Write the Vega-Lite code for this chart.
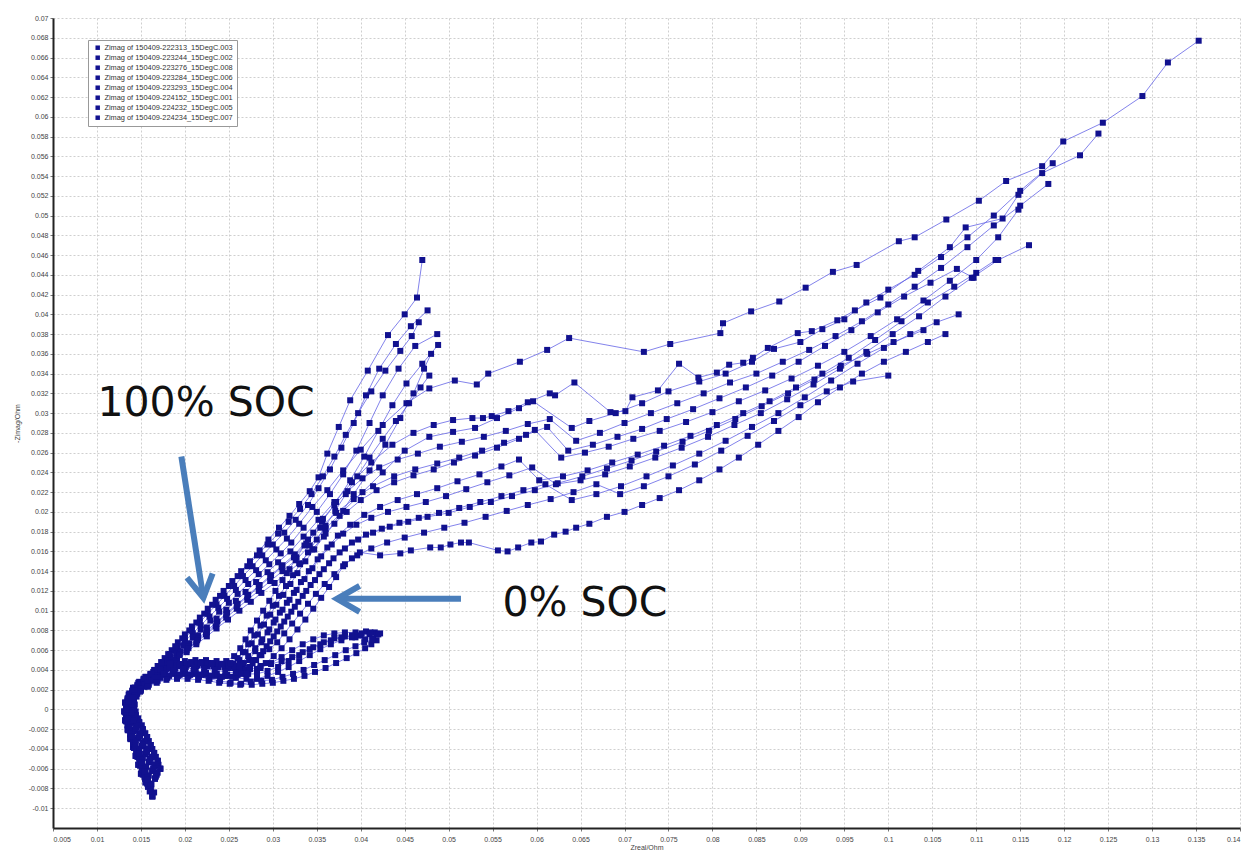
{
"$schema":"https://vega.github.io/schema/vega-lite/v6.json",
"width":1187,"height":810,
"autosize":{"type":"none"},
"padding":{"left":53,"top":18,"right":4,"bottom":22},
"background":"white",
"config":{"view":{"stroke":null},"font":"Liberation Sans"},
"datasets":{
"runs":[{"r":1,"name":"Zimag of 150409-222313_15DegC.003"},{"r":2,"name":"Zimag of 150409-223244_15DegC.002"},{"r":3,"name":"Zimag of 150409-223276_15DegC.008"},{"r":4,"name":"Zimag of 150409-223284_15DegC.006"},{"r":5,"name":"Zimag of 150409-223293_15DegC.004"},{"r":6,"name":"Zimag of 150409-224152_15DegC.001"},{"r":7,"name":"Zimag of 150409-224232_15DegC.005"},{"r":8,"name":"Zimag of 150409-224234_15DegC.007"},{"r":9,"name":"Zimag of 150409-222313_15DegC.003"},{"r":10,"name":"Zimag of 150409-223244_15DegC.002"},{"r":11,"name":"Zimag of 150409-223276_15DegC.008"},{"r":12,"name":"Zimag of 150409-223284_15DegC.006"},{"r":13,"name":"Zimag of 150409-223293_15DegC.004"},{"r":14,"name":"Zimag of 150409-224152_15DegC.001"},{"r":15,"name":"Zimag of 150409-224232_15DegC.005"},{"r":16,"name":"Zimag of 150409-224234_15DegC.007"},{"r":17,"name":"Zimag of 150409-222313_15DegC.003"},{"r":18,"name":"Zimag of 150409-223244_15DegC.002"},{"r":19,"name":"Zimag of 150409-223276_15DegC.008"},{"r":20,"name":"Zimag of 150409-223284_15DegC.006"},{"r":21,"name":"Zimag of 150409-223293_15DegC.004"},{"r":22,"name":"Zimag of 150409-224152_15DegC.001"},{"r":23,"name":"Zimag of 150409-224232_15DegC.005"},{"r":24,"name":"Zimag of 150409-224234_15DegC.007"},{"r":25,"name":"Zimag of 150409-222313_15DegC.003"}],
"notes":[{"label":"100% SOC","x":0.0224,"y":0.0309},{"label":"0% SOC","x":0.0655,"y":0.0107}],
"arrows":[{"id":1,"x":0.0196,"y":0.0256,"x2":0.0221,"y2":0.0113},{"id":2,"x":0.0514,"y":0.0112,"x2":0.0373,"y2":0.0112}],
"heads":[{"id":1,"x":0.0221,"y":0.0113},{"id":2,"x":0.0373,"y":0.0112}],
"pts":[
{"r":1,"x":0.0163,"y":-0.0088},{"r":1,"x":0.0161,"y":-0.008},{"r":1,"x":0.0158,"y":-0.0072},{"r":1,"x":0.0155,"y":-0.0063},{"r":1,"x":0.0151,"y":-0.0054},{"r":1,"x":0.0147,"y":-0.0045},{"r":1,"x":0.0143,"y":-0.0036},{"r":1,"x":0.0139,"y":-0.0027},{"r":1,"x":0.0136,"y":-0.0018},{"r":1,"x":0.0134,"y":-0.0009},{"r":1,"x":0.0133,"y":0},{"r":1,"x":0.0135,"y":0.0009},
{"r":1,"x":0.0145,"y":0.002},{"r":1,"x":0.0153,"y":0.0028},{"r":1,"x":0.0161,"y":0.0036},{"r":1,"x":0.0169,"y":0.0044},{"r":1,"x":0.0177,"y":0.0052},{"r":1,"x":0.0185,"y":0.006},{"r":1,"x":0.0192,"y":0.0068},{"r":1,"x":0.02,"y":0.0076},{"r":1,"x":0.0208,"y":0.0084},{"r":1,"x":0.0217,"y":0.0093},{"r":1,"x":0.0226,"y":0.0102},{"r":1,"x":0.0235,"y":0.0111},{"r":1,"x":0.0244,"y":0.012},{"r":1,"x":0.0254,"y":0.013},{"r":1,"x":0.0264,"y":0.014},{"r":1,"x":0.0274,"y":0.015},{"r":1,"x":0.0285,"y":0.0161},{"r":1,"x":0.0295,"y":0.0172},{"r":1,"x":0.0307,"y":0.0184},{"r":1,"x":0.0319,"y":0.0196},
{"r":1,"x":0.033,"y":0.0208},{"r":1,"x":0.0342,"y":0.0221},{"r":1,"x":0.0352,"y":0.0235},{"r":1,"x":0.0362,"y":0.0259},{"r":1,"x":0.0375,"y":0.0286},{"r":1,"x":0.0388,"y":0.0313},{"r":1,"x":0.0408,"y":0.0343},{"r":1,"x":0.0431,"y":0.0379},{"r":1,"x":0.045,"y":0.04},{"r":1,"x":0.0464,"y":0.0417},{"r":1,"x":0.047,"y":0.0455},
{"r":2,"x":0.0158,"y":-0.0078},{"r":2,"x":0.0155,"y":-0.007},{"r":2,"x":0.0152,"y":-0.0061},{"r":2,"x":0.0149,"y":-0.0052},{"r":2,"x":0.0145,"y":-0.0043},{"r":2,"x":0.0141,"y":-0.0034},{"r":2,"x":0.0138,"y":-0.0025},{"r":2,"x":0.0135,"y":-0.0016},{"r":2,"x":0.0133,"y":-0.0007},{"r":2,"x":0.0133,"y":0.0002},{"r":2,"x":0.0135,"y":0.0011},
{"r":2,"x":0.0143,"y":0.0018},{"r":2,"x":0.0151,"y":0.0025},{"r":2,"x":0.0158,"y":0.0032},{"r":2,"x":0.0166,"y":0.004},{"r":2,"x":0.0175,"y":0.0048},{"r":2,"x":0.0183,"y":0.0056},{"r":2,"x":0.0192,"y":0.0064},{"r":2,"x":0.02,"y":0.0072},{"r":2,"x":0.0208,"y":0.008},{"r":2,"x":0.0217,"y":0.0088},{"r":2,"x":0.0226,"y":0.0097},{"r":2,"x":0.0236,"y":0.0106},{"r":2,"x":0.0245,"y":0.0115},{"r":2,"x":0.0256,"y":0.0125},{"r":2,"x":0.0266,"y":0.0135},{"r":2,"x":0.0277,"y":0.0145},{"r":2,"x":0.0288,"y":0.0156},{"r":2,"x":0.03,"y":0.0167},{"r":2,"x":0.0313,"y":0.0179},
{"r":2,"x":0.0326,"y":0.0192},{"r":2,"x":0.034,"y":0.0207},{"r":2,"x":0.0352,"y":0.0224},{"r":2,"x":0.0365,"y":0.0243},{"r":2,"x":0.0378,"y":0.0265},{"r":2,"x":0.0392,"y":0.029},{"r":2,"x":0.0406,"y":0.0318},{"r":2,"x":0.0421,"y":0.0345},{"r":2,"x":0.044,"y":0.037},{"r":2,"x":0.0457,"y":0.0388},{"r":2,"x":0.0476,"y":0.0404},
{"r":3,"x":0.0166,"y":-0.007},{"r":3,"x":0.0163,"y":-0.0062},{"r":3,"x":0.0159,"y":-0.0053},{"r":3,"x":0.0155,"y":-0.0045},{"r":3,"x":0.0151,"y":-0.0037},{"r":3,"x":0.0147,"y":-0.0029},{"r":3,"x":0.0143,"y":-0.0021},{"r":3,"x":0.014,"y":-0.0013},{"r":3,"x":0.0138,"y":-0.0005},{"r":3,"x":0.0137,"y":0.0003},{"r":3,"x":0.0139,"y":0.0011},
{"r":3,"x":0.0147,"y":0.0021},{"r":3,"x":0.0156,"y":0.0029},{"r":3,"x":0.0165,"y":0.0037},{"r":3,"x":0.0174,"y":0.0045},{"r":3,"x":0.0183,"y":0.0053},{"r":3,"x":0.0191,"y":0.0061},{"r":3,"x":0.02,"y":0.0069},{"r":3,"x":0.0209,"y":0.0077},{"r":3,"x":0.0218,"y":0.0085},{"r":3,"x":0.0228,"y":0.0094},{"r":3,"x":0.0238,"y":0.0103},{"r":3,"x":0.0248,"y":0.0112},{"r":3,"x":0.0258,"y":0.0121},{"r":3,"x":0.0269,"y":0.0131},{"r":3,"x":0.0281,"y":0.0141},{"r":3,"x":0.0292,"y":0.0151},{"r":3,"x":0.0304,"y":0.0162},{"r":3,"x":0.0316,"y":0.0173},
{"r":3,"x":0.033,"y":0.0188},{"r":3,"x":0.0345,"y":0.0205},{"r":3,"x":0.0362,"y":0.0222},{"r":3,"x":0.038,"y":0.0242},{"r":3,"x":0.04,"y":0.0263},{"r":3,"x":0.0425,"y":0.0288},{"r":3,"x":0.0452,"y":0.031},{"r":3,"x":0.0478,"y":0.0325},{"r":3,"x":0.0507,"y":0.0333},{"r":3,"x":0.0532,"y":0.0329},{"r":3,"x":0.0545,"y":0.034},{"r":3,"x":0.0581,"y":0.0352},{"r":3,"x":0.0612,"y":0.0364},{"r":3,"x":0.0637,"y":0.0376},{"r":3,"x":0.0722,"y":0.0362},{"r":3,"x":0.0752,"y":0.037},{"r":3,"x":0.0809,"y":0.0381},{"r":3,"x":0.0812,"y":0.0391},{"r":3,"x":0.0844,"y":0.0403},{"r":3,"x":0.0876,"y":0.0413},{"r":3,"x":0.0906,"y":0.0427},{"r":3,"x":0.0937,"y":0.0443},{"r":3,"x":0.0964,"y":0.045},{"r":3,"x":0.1012,"y":0.0474},{"r":3,"x":0.103,"y":0.0478},{"r":3,"x":0.1066,"y":0.0496},{"r":3,"x":0.1103,"y":0.0515},{"r":3,"x":0.1134,"y":0.0535},{"r":3,"x":0.1175,"y":0.055},{"r":3,"x":0.1199,"y":0.0575},{"r":3,"x":0.1244,"y":0.0594},{"r":3,"x":0.1289,"y":0.0621},{"r":3,"x":0.1318,"y":0.0655},{"r":3,"x":0.1353,"y":0.0677},
{"r":4,"x":0.0172,"y":-0.006},{"r":4,"x":0.0169,"y":-0.0052},{"r":4,"x":0.0165,"y":-0.0044},{"r":4,"x":0.0161,"y":-0.0036},{"r":4,"x":0.0157,"y":-0.0028},{"r":4,"x":0.0152,"y":-0.002},{"r":4,"x":0.0148,"y":-0.0013},{"r":4,"x":0.0144,"y":-0.0006},{"r":4,"x":0.0142,"y":0.0001},{"r":4,"x":0.0142,"y":0.0008},
{"r":4,"x":0.0145,"y":0.0019},{"r":4,"x":0.0153,"y":0.0026},{"r":4,"x":0.0162,"y":0.0033},{"r":4,"x":0.0171,"y":0.0041},{"r":4,"x":0.018,"y":0.0049},{"r":4,"x":0.019,"y":0.0057},{"r":4,"x":0.0199,"y":0.0065},{"r":4,"x":0.0209,"y":0.0073},{"r":4,"x":0.0218,"y":0.0081},{"r":4,"x":0.0229,"y":0.009},{"r":4,"x":0.0239,"y":0.0099},{"r":4,"x":0.025,"y":0.0108},{"r":4,"x":0.026,"y":0.0117},{"r":4,"x":0.0272,"y":0.0127},{"r":4,"x":0.0284,"y":0.0137},{"r":4,"x":0.0296,"y":0.0147},{"r":4,"x":0.0309,"y":0.0158},{"r":4,"x":0.0321,"y":0.0169},
{"r":4,"x":0.0335,"y":0.0184},{"r":4,"x":0.035,"y":0.02},{"r":4,"x":0.0365,"y":0.0218},{"r":4,"x":0.038,"y":0.0238},{"r":4,"x":0.0395,"y":0.0262},{"r":4,"x":0.041,"y":0.029},{"r":4,"x":0.0425,"y":0.0318},{"r":4,"x":0.0443,"y":0.0345},{"r":4,"x":0.0462,"y":0.0368},{"r":4,"x":0.0487,"y":0.038},
{"r":5,"x":0.015,"y":-0.0065},{"r":5,"x":0.0147,"y":-0.0056},{"r":5,"x":0.0144,"y":-0.0047},{"r":5,"x":0.0141,"y":-0.0038},{"r":5,"x":0.0138,"y":-0.0029},{"r":5,"x":0.0135,"y":-0.002},{"r":5,"x":0.0132,"y":-0.0011},{"r":5,"x":0.0131,"y":-0.0002},{"r":5,"x":0.0132,"y":0.0007},
{"r":5,"x":0.0147,"y":0.002},{"r":5,"x":0.0155,"y":0.0027},{"r":5,"x":0.0165,"y":0.0035},{"r":5,"x":0.0175,"y":0.0043},{"r":5,"x":0.0185,"y":0.0051},{"r":5,"x":0.0195,"y":0.0059},{"r":5,"x":0.0205,"y":0.0067},{"r":5,"x":0.0215,"y":0.0075},{"r":5,"x":0.0225,"y":0.0083},{"r":5,"x":0.0236,"y":0.0092},{"r":5,"x":0.0247,"y":0.0101},{"r":5,"x":0.0258,"y":0.011},{"r":5,"x":0.0269,"y":0.0119},{"r":5,"x":0.0281,"y":0.0129},{"r":5,"x":0.0294,"y":0.0139},{"r":5,"x":0.0306,"y":0.0149},{"r":5,"x":0.032,"y":0.016},
{"r":5,"x":0.0335,"y":0.0175},{"r":5,"x":0.0352,"y":0.0192},{"r":5,"x":0.037,"y":0.021},{"r":5,"x":0.039,"y":0.023},{"r":5,"x":0.0412,"y":0.025},{"r":5,"x":0.0436,"y":0.0268},{"r":5,"x":0.046,"y":0.028},{"r":5,"x":0.0483,"y":0.0288},{"r":5,"x":0.0505,"y":0.0293},{"r":5,"x":0.0527,"y":0.0295},{"r":5,"x":0.0539,"y":0.0295},{"r":5,"x":0.0549,"y":0.0297},{"r":5,"x":0.0568,"y":0.0302},{"r":5,"x":0.059,"y":0.0311},{"r":5,"x":0.0615,"y":0.032},{"r":5,"x":0.0621,"y":0.0318},{"r":5,"x":0.0643,"y":0.0331},{"r":5,"x":0.0684,"y":0.0301},{"r":5,"x":0.0701,"y":0.0302},{"r":5,"x":0.0709,"y":0.0316},{"r":5,"x":0.0738,"y":0.0323},{"r":5,"x":0.0762,"y":0.035},{"r":5,"x":0.0784,"y":0.0336},{"r":5,"x":0.0805,"y":0.0341},{"r":5,"x":0.0819,"y":0.0349},{"r":5,"x":0.0835,"y":0.0351},{"r":5,"x":0.0846,"y":0.0356},{"r":5,"x":0.0863,"y":0.0366},{"r":5,"x":0.0897,"y":0.0381},{"r":5,"x":0.0913,"y":0.0383},{"r":5,"x":0.0942,"y":0.0394},{"r":5,"x":0.0962,"y":0.0404},{"r":5,"x":0.0991,"y":0.0417},{"r":5,"x":0.1034,"y":0.0444},{"r":5,"x":0.107,"y":0.0468},{"r":5,"x":0.1088,"y":0.0488},{"r":5,"x":0.113,"y":0.0497},{"r":5,"x":0.1148,"y":0.0521},{"r":5,"x":0.1175,"y":0.0543},{"r":5,"x":0.1218,"y":0.0561},{"r":5,"x":0.1239,"y":0.0583},
{"r":6,"x":0.0165,"y":-0.0084},{"r":6,"x":0.0162,"y":-0.0076},{"r":6,"x":0.0159,"y":-0.0067},{"r":6,"x":0.0156,"y":-0.0058},{"r":6,"x":0.0152,"y":-0.0049},{"r":6,"x":0.0148,"y":-0.004},{"r":6,"x":0.0144,"y":-0.0031},{"r":6,"x":0.0141,"y":-0.0022},{"r":6,"x":0.0138,"y":-0.0013},{"r":6,"x":0.0137,"y":-0.0004},{"r":6,"x":0.0138,"y":0.0005},{"r":6,"x":0.014,"y":0.0012},
{"r":6,"x":0.0144,"y":0.0018},{"r":6,"x":0.0154,"y":0.0025},{"r":6,"x":0.0163,"y":0.0032},{"r":6,"x":0.0173,"y":0.004},{"r":6,"x":0.0183,"y":0.0048},{"r":6,"x":0.0194,"y":0.0056},{"r":6,"x":0.0204,"y":0.0064},{"r":6,"x":0.0215,"y":0.0072},{"r":6,"x":0.0225,"y":0.008},{"r":6,"x":0.0237,"y":0.0089},{"r":6,"x":0.0248,"y":0.0098},{"r":6,"x":0.026,"y":0.0107},{"r":6,"x":0.0272,"y":0.0116},{"r":6,"x":0.0285,"y":0.0126},{"r":6,"x":0.0298,"y":0.0136},{"r":6,"x":0.0311,"y":0.0146},{"r":6,"x":0.0325,"y":0.0157},
{"r":6,"x":0.034,"y":0.0172},{"r":6,"x":0.0356,"y":0.019},{"r":6,"x":0.0372,"y":0.021},{"r":6,"x":0.0388,"y":0.0232},{"r":6,"x":0.0404,"y":0.0256},{"r":6,"x":0.042,"y":0.0282},{"r":6,"x":0.0436,"y":0.0308},{"r":6,"x":0.0452,"y":0.033},{"r":6,"x":0.047,"y":0.035},{"r":6,"x":0.0488,"y":0.0369},
{"r":7,"x":0.0155,"y":-0.0074},{"r":7,"x":0.0152,"y":-0.0066},{"r":7,"x":0.0149,"y":-0.0057},{"r":7,"x":0.0146,"y":-0.0048},{"r":7,"x":0.0142,"y":-0.0039},{"r":7,"x":0.0138,"y":-0.003},{"r":7,"x":0.0135,"y":-0.0021},{"r":7,"x":0.0133,"y":-0.0012},{"r":7,"x":0.0132,"y":-0.0003},{"r":7,"x":0.0134,"y":0.0006},{"r":7,"x":0.0139,"y":0.0014},
{"r":7,"x":0.0148,"y":0.002},{"r":7,"x":0.0158,"y":0.0028},{"r":7,"x":0.0169,"y":0.0036},{"r":7,"x":0.018,"y":0.0044},{"r":7,"x":0.0191,"y":0.0052},{"r":7,"x":0.0202,"y":0.006},{"r":7,"x":0.0213,"y":0.0068},{"r":7,"x":0.0224,"y":0.0076},{"r":7,"x":0.0235,"y":0.0084},{"r":7,"x":0.0247,"y":0.0093},{"r":7,"x":0.0259,"y":0.0102},{"r":7,"x":0.0271,"y":0.0111},{"r":7,"x":0.0284,"y":0.012},{"r":7,"x":0.0297,"y":0.013},{"r":7,"x":0.0311,"y":0.014},{"r":7,"x":0.0326,"y":0.0151},
{"r":7,"x":0.0342,"y":0.0166},{"r":7,"x":0.036,"y":0.0183},{"r":7,"x":0.038,"y":0.0201},{"r":7,"x":0.0402,"y":0.022},{"r":7,"x":0.0425,"y":0.024},{"r":7,"x":0.045,"y":0.0262},{"r":7,"x":0.0478,"y":0.0276},{"r":7,"x":0.0505,"y":0.0281},{"r":7,"x":0.053,"y":0.0285},{"r":7,"x":0.0555,"y":0.0295},{"r":7,"x":0.058,"y":0.0305},{"r":7,"x":0.0596,"y":0.0312},{"r":7,"x":0.064,"y":0.0285},{"r":7,"x":0.066,"y":0.0292},{"r":7,"x":0.069,"y":0.03},{"r":7,"x":0.072,"y":0.031},{"r":7,"x":0.075,"y":0.0322},{"r":7,"x":0.0785,"y":0.0332},{"r":7,"x":0.0815,"y":0.034},{"r":7,"x":0.0845,"y":0.0352},{"r":7,"x":0.087,"y":0.0365},{"r":7,"x":0.09,"y":0.0372},{"r":7,"x":0.0925,"y":0.0385},{"r":7,"x":0.095,"y":0.0395},{"r":7,"x":0.0975,"y":0.0412},{"r":7,"x":0.1,"y":0.0425},{"r":7,"x":0.103,"y":0.044},{"r":7,"x":0.106,"y":0.0458},{"r":7,"x":0.109,"y":0.0478},{"r":7,"x":0.112,"y":0.05},{"r":7,"x":0.115,"y":0.0525},{"r":7,"x":0.1187,"y":0.0553},
{"r":8,"x":0.0168,"y":-0.0066},{"r":8,"x":0.0165,"y":-0.0058},{"r":8,"x":0.0161,"y":-0.005},{"r":8,"x":0.0157,"y":-0.0042},{"r":8,"x":0.0153,"y":-0.0034},{"r":8,"x":0.0149,"y":-0.0026},{"r":8,"x":0.0145,"y":-0.0018},{"r":8,"x":0.0142,"y":-0.001},{"r":8,"x":0.014,"y":-0.0002},{"r":8,"x":0.014,"y":0.0006},{"r":8,"x":0.0142,"y":0.0013},
{"r":8,"x":0.0147,"y":0.0019},{"r":8,"x":0.0156,"y":0.0026},{"r":8,"x":0.0168,"y":0.0034},{"r":8,"x":0.0179,"y":0.0042},{"r":8,"x":0.0191,"y":0.005},{"r":8,"x":0.0202,"y":0.0058},{"r":8,"x":0.0213,"y":0.0066},{"r":8,"x":0.0225,"y":0.0074},{"r":8,"x":0.0236,"y":0.0082},{"r":8,"x":0.0249,"y":0.0091},{"r":8,"x":0.0262,"y":0.01},{"r":8,"x":0.0275,"y":0.0109},{"r":8,"x":0.0287,"y":0.0118},{"r":8,"x":0.0302,"y":0.0128},{"r":8,"x":0.0316,"y":0.0138},{"r":8,"x":0.033,"y":0.0148},
{"r":8,"x":0.0345,"y":0.0162},{"r":8,"x":0.036,"y":0.0178},{"r":8,"x":0.0376,"y":0.0196},{"r":8,"x":0.0392,"y":0.0218},{"r":8,"x":0.041,"y":0.0242},{"r":8,"x":0.0428,"y":0.0268},{"r":8,"x":0.0445,"y":0.0295},{"r":8,"x":0.046,"y":0.032},{"r":8,"x":0.0472,"y":0.0345},{"r":8,"x":0.048,"y":0.036},
{"r":9,"x":0.0172,"y":-0.006},{"r":9,"x":0.0169,"y":-0.0052},{"r":9,"x":0.0165,"y":-0.0044},{"r":9,"x":0.0161,"y":-0.0036},{"r":9,"x":0.0157,"y":-0.0028},{"r":9,"x":0.0152,"y":-0.002},{"r":9,"x":0.0148,"y":-0.0013},{"r":9,"x":0.0144,"y":-0.0006},{"r":9,"x":0.0142,"y":0.0001},{"r":9,"x":0.0142,"y":0.0008},
{"r":9,"x":0.0144,"y":0.0016},{"r":9,"x":0.0148,"y":0.0024},{"r":9,"x":0.0154,"y":0.0031},{"r":9,"x":0.0161,"y":0.0036},{"r":9,"x":0.0169,"y":0.004},{"r":9,"x":0.0178,"y":0.0044},{"r":9,"x":0.0189,"y":0.0047},{"r":9,"x":0.02,"y":0.0049},{"r":9,"x":0.0212,"y":0.005},{"r":9,"x":0.0224,"y":0.005},{"r":9,"x":0.0236,"y":0.0049},{"r":9,"x":0.0247,"y":0.0049},
{"r":9,"x":0.0256,"y":0.0054},{"r":9,"x":0.0263,"y":0.0062},{"r":9,"x":0.0269,"y":0.0071},{"r":9,"x":0.0275,"y":0.008},{"r":9,"x":0.0282,"y":0.009},{"r":9,"x":0.0289,"y":0.01},{"r":9,"x":0.0296,"y":0.011},{"r":9,"x":0.0303,"y":0.012},{"r":9,"x":0.0311,"y":0.0131},{"r":9,"x":0.0319,"y":0.0142},{"r":9,"x":0.0327,"y":0.0154},{"r":9,"x":0.0336,"y":0.0166},{"r":9,"x":0.0346,"y":0.0179},{"r":9,"x":0.0357,"y":0.0193},{"r":9,"x":0.037,"y":0.0207},{"r":9,"x":0.0385,"y":0.0221},{"r":9,"x":0.0402,"y":0.0234},{"r":9,"x":0.0421,"y":0.0245},{"r":9,"x":0.0442,"y":0.0253},{"r":9,"x":0.0465,"y":0.0259},{"r":9,"x":0.049,"y":0.0266},{"r":9,"x":0.0515,"y":0.0271},{"r":9,"x":0.054,"y":0.0276},{"r":9,"x":0.0565,"y":0.0282},{"r":9,"x":0.059,"y":0.0289},{"r":9,"x":0.0615,"y":0.0294},{"r":9,"x":0.0645,"y":0.0272},{"r":9,"x":0.0672,"y":0.028},{"r":9,"x":0.07,"y":0.029},{"r":9,"x":0.073,"y":0.03},{"r":9,"x":0.076,"y":0.031},{"r":9,"x":0.079,"y":0.032},{"r":9,"x":0.082,"y":0.0331},{"r":9,"x":0.085,"y":0.034},{"r":9,"x":0.088,"y":0.0352},{"r":9,"x":0.091,"y":0.0364},{"r":9,"x":0.094,"y":0.0378},{"r":9,"x":0.097,"y":0.0393},{"r":9,"x":0.1,"y":0.041},{"r":9,"x":0.103,"y":0.0428},{"r":9,"x":0.106,"y":0.0447},{"r":9,"x":0.109,"y":0.0468},{"r":9,"x":0.112,"y":0.049},{"r":9,"x":0.115,"y":0.051},{"r":9,"x":0.1182,"y":0.0532},
{"r":10,"x":0.015,"y":-0.0065},{"r":10,"x":0.0147,"y":-0.0056},{"r":10,"x":0.0144,"y":-0.0047},{"r":10,"x":0.0141,"y":-0.0038},{"r":10,"x":0.0138,"y":-0.0029},{"r":10,"x":0.0135,"y":-0.002},{"r":10,"x":0.0132,"y":-0.0011},{"r":10,"x":0.0131,"y":-0.0002},{"r":10,"x":0.0132,"y":0.0007},
{"r":10,"x":0.0136,"y":0.0015},{"r":10,"x":0.0141,"y":0.0022},{"r":10,"x":0.0148,"y":0.0028},{"r":10,"x":0.0156,"y":0.0033},{"r":10,"x":0.0166,"y":0.0037},{"r":10,"x":0.0177,"y":0.004},{"r":10,"x":0.0189,"y":0.0042},{"r":10,"x":0.0201,"y":0.0043},{"r":10,"x":0.0213,"y":0.0044},{"r":10,"x":0.0225,"y":0.0044},{"r":10,"x":0.0237,"y":0.0043},{"r":10,"x":0.0248,"y":0.0042},
{"r":10,"x":0.0256,"y":0.0044},{"r":10,"x":0.0262,"y":0.005},{"r":10,"x":0.0269,"y":0.0058},{"r":10,"x":0.0276,"y":0.0067},{"r":10,"x":0.0283,"y":0.0076},{"r":10,"x":0.029,"y":0.0086},{"r":10,"x":0.0297,"y":0.0096},{"r":10,"x":0.0304,"y":0.0106},{"r":10,"x":0.0312,"y":0.0116},{"r":10,"x":0.032,"y":0.0127},{"r":10,"x":0.0328,"y":0.0138},{"r":10,"x":0.0337,"y":0.015},{"r":10,"x":0.0347,"y":0.0162},{"r":10,"x":0.0358,"y":0.0175},{"r":10,"x":0.037,"y":0.0188},{"r":10,"x":0.0384,"y":0.02},{"r":10,"x":0.04,"y":0.0212},{"r":10,"x":0.0418,"y":0.0222},{"r":10,"x":0.0438,"y":0.023},{"r":10,"x":0.046,"y":0.0237},{"r":10,"x":0.0483,"y":0.0243},{"r":10,"x":0.0506,"y":0.025},{"r":10,"x":0.053,"y":0.0257},{"r":10,"x":0.0555,"y":0.0265},{"r":10,"x":0.058,"y":0.0274},{"r":10,"x":0.0598,"y":0.0283},{"r":10,"x":0.0628,"y":0.0255},{"r":10,"x":0.0655,"y":0.026},{"r":10,"x":0.0682,"y":0.0266},{"r":10,"x":0.071,"y":0.0274},{"r":10,"x":0.074,"y":0.0282},{"r":10,"x":0.077,"y":0.0291},{"r":10,"x":0.08,"y":0.0301},{"r":10,"x":0.083,"y":0.0312},{"r":10,"x":0.086,"y":0.0323},{"r":10,"x":0.089,"y":0.0335},{"r":10,"x":0.092,"y":0.0348},{"r":10,"x":0.095,"y":0.0362},{"r":10,"x":0.098,"y":0.0378},{"r":10,"x":0.101,"y":0.0395},{"r":10,"x":0.104,"y":0.0414},{"r":10,"x":0.107,"y":0.0434},{"r":10,"x":0.11,"y":0.0455},{"r":10,"x":0.1125,"y":0.0478},{"r":10,"x":0.1148,"y":0.0506},
{"r":11,"x":0.0163,"y":-0.0088},{"r":11,"x":0.0161,"y":-0.008},{"r":11,"x":0.0158,"y":-0.0072},{"r":11,"x":0.0155,"y":-0.0063},{"r":11,"x":0.0151,"y":-0.0054},{"r":11,"x":0.0147,"y":-0.0045},{"r":11,"x":0.0143,"y":-0.0036},{"r":11,"x":0.0139,"y":-0.0027},{"r":11,"x":0.0136,"y":-0.0018},{"r":11,"x":0.0134,"y":-0.0009},{"r":11,"x":0.0133,"y":0},{"r":11,"x":0.0135,"y":0.0009},
{"r":11,"x":0.0137,"y":0.0016},{"r":11,"x":0.0143,"y":0.0022},{"r":11,"x":0.015,"y":0.0027},{"r":11,"x":0.0158,"y":0.0031},{"r":11,"x":0.0167,"y":0.0034},{"r":11,"x":0.0177,"y":0.0036},{"r":11,"x":0.0188,"y":0.0037},{"r":11,"x":0.02,"y":0.0038},{"r":11,"x":0.0212,"y":0.0038},{"r":11,"x":0.0224,"y":0.0037},{"r":11,"x":0.0236,"y":0.0036},{"r":11,"x":0.0248,"y":0.0035},
{"r":11,"x":0.0258,"y":0.0036},{"r":11,"x":0.0266,"y":0.0042},{"r":11,"x":0.0273,"y":0.005},{"r":11,"x":0.028,"y":0.0059},{"r":11,"x":0.0287,"y":0.0068},{"r":11,"x":0.0294,"y":0.0078},{"r":11,"x":0.0301,"y":0.0088},{"r":11,"x":0.0308,"y":0.0098},{"r":11,"x":0.0316,"y":0.0108},{"r":11,"x":0.0324,"y":0.0118},{"r":11,"x":0.0332,"y":0.0129},{"r":11,"x":0.0341,"y":0.014},{"r":11,"x":0.0351,"y":0.0152},{"r":11,"x":0.0362,"y":0.0164},{"r":11,"x":0.0374,"y":0.0176},{"r":11,"x":0.0388,"y":0.0187},{"r":11,"x":0.0404,"y":0.0197},{"r":11,"x":0.0422,"y":0.0205},{"r":11,"x":0.0442,"y":0.0212},{"r":11,"x":0.0464,"y":0.0218},{"r":11,"x":0.0487,"y":0.0224},{"r":11,"x":0.051,"y":0.0231},{"r":11,"x":0.0535,"y":0.0238},{"r":11,"x":0.056,"y":0.0246},{"r":11,"x":0.058,"y":0.0253},{"r":11,"x":0.0603,"y":0.0232},{"r":11,"x":0.063,"y":0.0236},{"r":11,"x":0.0658,"y":0.0242},{"r":11,"x":0.0686,"y":0.025},{"r":11,"x":0.0715,"y":0.0258},{"r":11,"x":0.0745,"y":0.0267},{"r":11,"x":0.0775,"y":0.0277},{"r":11,"x":0.0805,"y":0.0288},{"r":11,"x":0.0835,"y":0.03},{"r":11,"x":0.0865,"y":0.0312},{"r":11,"x":0.0895,"y":0.0326},{"r":11,"x":0.0925,"y":0.034},{"r":11,"x":0.0955,"y":0.0356},{"r":11,"x":0.0985,"y":0.0374},{"r":11,"x":0.1015,"y":0.0393},{"r":11,"x":0.1045,"y":0.0412},{"r":11,"x":0.1075,"y":0.0428},{"r":11,"x":0.11,"y":0.0442},{"r":11,"x":0.1122,"y":0.0455},
{"r":12,"x":0.0158,"y":-0.0078},{"r":12,"x":0.0155,"y":-0.007},{"r":12,"x":0.0152,"y":-0.0061},{"r":12,"x":0.0149,"y":-0.0052},{"r":12,"x":0.0145,"y":-0.0043},{"r":12,"x":0.0141,"y":-0.0034},{"r":12,"x":0.0138,"y":-0.0025},{"r":12,"x":0.0135,"y":-0.0016},{"r":12,"x":0.0133,"y":-0.0007},{"r":12,"x":0.0133,"y":0.0002},{"r":12,"x":0.0135,"y":0.0011},
{"r":12,"x":0.0141,"y":0.002},{"r":12,"x":0.0147,"y":0.0027},{"r":12,"x":0.0155,"y":0.0033},{"r":12,"x":0.0164,"y":0.0038},{"r":12,"x":0.0174,"y":0.0042},{"r":12,"x":0.0185,"y":0.0045},{"r":12,"x":0.0197,"y":0.0046},{"r":12,"x":0.0209,"y":0.0046},{"r":12,"x":0.0221,"y":0.0045},{"r":12,"x":0.0233,"y":0.0044},{"r":12,"x":0.0245,"y":0.0043},
{"r":12,"x":0.0256,"y":0.0042},{"r":12,"x":0.0264,"y":0.0047},{"r":12,"x":0.0272,"y":0.0054},{"r":12,"x":0.028,"y":0.0062},{"r":12,"x":0.0288,"y":0.0071},{"r":12,"x":0.0296,"y":0.0081},{"r":12,"x":0.0303,"y":0.0091},{"r":12,"x":0.0311,"y":0.0101},{"r":12,"x":0.0319,"y":0.0111},{"r":12,"x":0.0327,"y":0.0121},{"r":12,"x":0.0336,"y":0.0132},{"r":12,"x":0.0345,"y":0.0143},{"r":12,"x":0.0355,"y":0.0155},{"r":12,"x":0.0367,"y":0.0167},{"r":12,"x":0.038,"y":0.0178},{"r":12,"x":0.0395,"y":0.0187},{"r":12,"x":0.0412,"y":0.0194},{"r":12,"x":0.0431,"y":0.02},{"r":12,"x":0.0452,"y":0.0205},{"r":12,"x":0.0474,"y":0.021},{"r":12,"x":0.0497,"y":0.0216},{"r":12,"x":0.052,"y":0.0223},{"r":12,"x":0.0544,"y":0.023},{"r":12,"x":0.0569,"y":0.0237},{"r":12,"x":0.0595,"y":0.0245},{"r":12,"x":0.0622,"y":0.0228},{"r":12,"x":0.065,"y":0.0232},{"r":12,"x":0.0678,"y":0.0238},{"r":12,"x":0.0706,"y":0.0246},{"r":12,"x":0.0735,"y":0.0255},{"r":12,"x":0.0765,"y":0.0265},{"r":12,"x":0.0795,"y":0.0276},{"r":12,"x":0.0825,"y":0.0288},{"r":12,"x":0.0855,"y":0.03},{"r":12,"x":0.0885,"y":0.0314},{"r":12,"x":0.0915,"y":0.0329},{"r":12,"x":0.0945,"y":0.0345},{"r":12,"x":0.0975,"y":0.0362},{"r":12,"x":0.1005,"y":0.038},{"r":12,"x":0.1035,"y":0.0398},{"r":12,"x":0.1065,"y":0.0418},{"r":12,"x":0.1095,"y":0.0437},{"r":12,"x":0.1125,"y":0.0455},{"r":12,"x":0.116,"y":0.047},
{"r":13,"x":0.0166,"y":-0.007},{"r":13,"x":0.0163,"y":-0.0062},{"r":13,"x":0.0159,"y":-0.0053},{"r":13,"x":0.0155,"y":-0.0045},{"r":13,"x":0.0151,"y":-0.0037},{"r":13,"x":0.0147,"y":-0.0029},{"r":13,"x":0.0143,"y":-0.0021},{"r":13,"x":0.014,"y":-0.0013},{"r":13,"x":0.0138,"y":-0.0005},{"r":13,"x":0.0137,"y":0.0003},{"r":13,"x":0.0139,"y":0.0011},
{"r":13,"x":0.0143,"y":0.0019},{"r":13,"x":0.015,"y":0.0025},{"r":13,"x":0.0158,"y":0.003},{"r":13,"x":0.0167,"y":0.0033},{"r":13,"x":0.0177,"y":0.0035},{"r":13,"x":0.0188,"y":0.0036},{"r":13,"x":0.02,"y":0.0036},{"r":13,"x":0.0212,"y":0.0036},{"r":13,"x":0.0224,"y":0.0035},{"r":13,"x":0.0236,"y":0.0034},{"r":13,"x":0.0248,"y":0.0034},
{"r":13,"x":0.0259,"y":0.0035},{"r":13,"x":0.0268,"y":0.004},{"r":13,"x":0.0277,"y":0.0047},{"r":13,"x":0.0285,"y":0.0055},{"r":13,"x":0.0293,"y":0.0064},{"r":13,"x":0.0301,"y":0.0074},{"r":13,"x":0.0309,"y":0.0084},{"r":13,"x":0.0317,"y":0.0094},{"r":13,"x":0.0325,"y":0.0104},{"r":13,"x":0.0334,"y":0.0115},{"r":13,"x":0.0343,"y":0.0126},{"r":13,"x":0.0353,"y":0.0137},{"r":13,"x":0.0364,"y":0.0148},{"r":13,"x":0.0376,"y":0.0159},{"r":13,"x":0.039,"y":0.0169},{"r":13,"x":0.0406,"y":0.0177},{"r":13,"x":0.0424,"y":0.0183},{"r":13,"x":0.0444,"y":0.0189},{"r":13,"x":0.0466,"y":0.0194},{"r":13,"x":0.0489,"y":0.0199},{"r":13,"x":0.0512,"y":0.0204},{"r":13,"x":0.0536,"y":0.021},{"r":13,"x":0.056,"y":0.0216},{"r":13,"x":0.0585,"y":0.0222},{"r":13,"x":0.061,"y":0.0228},{"r":13,"x":0.064,"y":0.0212},{"r":13,"x":0.0668,"y":0.0218},{"r":13,"x":0.0696,"y":0.0226},{"r":13,"x":0.0725,"y":0.0236},{"r":13,"x":0.0755,"y":0.0247},{"r":13,"x":0.0785,"y":0.0259},{"r":13,"x":0.0815,"y":0.0272},{"r":13,"x":0.0845,"y":0.0286},{"r":13,"x":0.0875,"y":0.03},{"r":13,"x":0.0905,"y":0.0316},{"r":13,"x":0.0935,"y":0.0333},{"r":13,"x":0.0965,"y":0.035},{"r":13,"x":0.0995,"y":0.0366},{"r":13,"x":0.1025,"y":0.038},{"r":13,"x":0.1055,"y":0.0392},{"r":13,"x":0.108,"y":0.04},
{"r":14,"x":0.017,"y":-0.0056},{"r":14,"x":0.0167,"y":-0.0048},{"r":14,"x":0.0163,"y":-0.004},{"r":14,"x":0.0159,"y":-0.0032},{"r":14,"x":0.0155,"y":-0.0024},{"r":14,"x":0.0151,"y":-0.0016},{"r":14,"x":0.0147,"y":-0.0009},{"r":14,"x":0.0144,"y":-0.0002},{"r":14,"x":0.0143,"y":0.0005},
{"r":14,"x":0.0145,"y":0.0013},{"r":14,"x":0.015,"y":0.0021},{"r":14,"x":0.0157,"y":0.0028},{"r":14,"x":0.0165,"y":0.0034},{"r":14,"x":0.0174,"y":0.0039},{"r":14,"x":0.0184,"y":0.0043},{"r":14,"x":0.0195,"y":0.0046},{"r":14,"x":0.0207,"y":0.0048},{"r":14,"x":0.0219,"y":0.0048},{"r":14,"x":0.0231,"y":0.0047},{"r":14,"x":0.0243,"y":0.0046},
{"r":14,"x":0.0255,"y":0.0046},{"r":14,"x":0.0267,"y":0.0047},{"r":14,"x":0.0278,"y":0.005},{"r":14,"x":0.0287,"y":0.0055},{"r":14,"x":0.0296,"y":0.0061},{"r":14,"x":0.0305,"y":0.0068},{"r":14,"x":0.0313,"y":0.0077},{"r":14,"x":0.0322,"y":0.0087},{"r":14,"x":0.0331,"y":0.0097},{"r":14,"x":0.034,"y":0.0107},{"r":14,"x":0.0349,"y":0.0117},{"r":14,"x":0.0359,"y":0.0127},{"r":14,"x":0.037,"y":0.0137},{"r":14,"x":0.0382,"y":0.0147},{"r":14,"x":0.0396,"y":0.0156},{"r":14,"x":0.0412,"y":0.0163},{"r":14,"x":0.043,"y":0.0169},{"r":14,"x":0.045,"y":0.0174},{"r":14,"x":0.0472,"y":0.0179},{"r":14,"x":0.0495,"y":0.0184},{"r":14,"x":0.0518,"y":0.0189},{"r":14,"x":0.0542,"y":0.0195},{"r":14,"x":0.0566,"y":0.0201},{"r":14,"x":0.059,"y":0.0207},{"r":14,"x":0.0616,"y":0.0213},{"r":14,"x":0.0642,"y":0.022},{"r":14,"x":0.0668,"y":0.0228},{"r":14,"x":0.0695,"y":0.0218},{"r":14,"x":0.0722,"y":0.0226},{"r":14,"x":0.075,"y":0.0236},{"r":14,"x":0.078,"y":0.0248},{"r":14,"x":0.081,"y":0.0262},{"r":14,"x":0.084,"y":0.0277},{"r":14,"x":0.087,"y":0.0292},{"r":14,"x":0.09,"y":0.0308},{"r":14,"x":0.093,"y":0.0322},{"r":14,"x":0.096,"y":0.0332},{"r":14,"x":0.1,"y":0.0338},
{"r":15,"x":0.0152,"y":-0.006},{"r":15,"x":0.0149,"y":-0.0051},{"r":15,"x":0.0146,"y":-0.0042},{"r":15,"x":0.0143,"y":-0.0033},{"r":15,"x":0.014,"y":-0.0024},{"r":15,"x":0.0137,"y":-0.0015},{"r":15,"x":0.0134,"y":-0.0006},{"r":15,"x":0.0134,"y":0.0003},{"r":15,"x":0.0136,"y":0.001},
{"r":15,"x":0.0137,"y":0.0016},{"r":15,"x":0.0143,"y":0.0022},{"r":15,"x":0.015,"y":0.0027},{"r":15,"x":0.0158,"y":0.0031},{"r":15,"x":0.0167,"y":0.0034},{"r":15,"x":0.0177,"y":0.0036},{"r":15,"x":0.0188,"y":0.0037},{"r":15,"x":0.02,"y":0.0038},{"r":15,"x":0.0212,"y":0.0038},{"r":15,"x":0.0224,"y":0.0037},{"r":15,"x":0.0236,"y":0.0036},{"r":15,"x":0.0248,"y":0.0035},
{"r":15,"x":0.026,"y":0.0035},{"r":15,"x":0.0272,"y":0.0036},{"r":15,"x":0.0282,"y":0.0041},{"r":15,"x":0.0292,"y":0.0047},{"r":15,"x":0.0301,"y":0.0054},{"r":15,"x":0.031,"y":0.0062},{"r":15,"x":0.0319,"y":0.0071},{"r":15,"x":0.0328,"y":0.0081},{"r":15,"x":0.0337,"y":0.0091},{"r":15,"x":0.0346,"y":0.0102},{"r":15,"x":0.0355,"y":0.0113},{"r":15,"x":0.0364,"y":0.0124},{"r":15,"x":0.0372,"y":0.0134},{"r":15,"x":0.038,"y":0.0145},{"r":15,"x":0.039,"y":0.0153},{"r":15,"x":0.0399,"y":0.0159},{"r":15,"x":0.0422,"y":0.0156},{"r":15,"x":0.0445,"y":0.0158},{"r":15,"x":0.0457,"y":0.0161},{"r":15,"x":0.0479,"y":0.0164},{"r":15,"x":0.0491,"y":0.0164},{"r":15,"x":0.0502,"y":0.0167},{"r":15,"x":0.0514,"y":0.0169},{"r":15,"x":0.0523,"y":0.0169},{"r":15,"x":0.0556,"y":0.0161},{"r":15,"x":0.0567,"y":0.016},{"r":15,"x":0.0579,"y":0.0164},{"r":15,"x":0.0594,"y":0.0169},{"r":15,"x":0.0605,"y":0.017},{"r":15,"x":0.062,"y":0.0177},{"r":15,"x":0.0633,"y":0.018},{"r":15,"x":0.0645,"y":0.0184},{"r":15,"x":0.066,"y":0.0188},{"r":15,"x":0.068,"y":0.0195},{"r":15,"x":0.07,"y":0.02},{"r":15,"x":0.072,"y":0.0207},{"r":15,"x":0.074,"y":0.0214},{"r":15,"x":0.0762,"y":0.0222},{"r":15,"x":0.0785,"y":0.0232},{"r":15,"x":0.0808,"y":0.0243},{"r":15,"x":0.083,"y":0.0255},{"r":15,"x":0.0852,"y":0.0268},{"r":15,"x":0.0875,"y":0.0282},{"r":15,"x":0.0898,"y":0.0296},{"r":15,"x":0.092,"y":0.0311},{"r":15,"x":0.0945,"y":0.0326},{"r":15,"x":0.097,"y":0.034},{"r":15,"x":0.0995,"y":0.0352},{"r":15,"x":0.102,"y":0.0362},{"r":15,"x":0.1045,"y":0.0372},{"r":15,"x":0.1065,"y":0.038},
{"r":16,"x":0.0163,"y":-0.0088},{"r":16,"x":0.0161,"y":-0.008},{"r":16,"x":0.0158,"y":-0.0072},{"r":16,"x":0.0155,"y":-0.0063},{"r":16,"x":0.0151,"y":-0.0054},{"r":16,"x":0.0147,"y":-0.0045},{"r":16,"x":0.0143,"y":-0.0036},{"r":16,"x":0.0139,"y":-0.0027},{"r":16,"x":0.0136,"y":-0.0018},{"r":16,"x":0.0134,"y":-0.0009},{"r":16,"x":0.0133,"y":0},{"r":16,"x":0.0135,"y":0.0009},
{"r":16,"x":0.014,"y":0.0017},{"r":16,"x":0.0146,"y":0.0024},{"r":16,"x":0.0153,"y":0.003},{"r":16,"x":0.0161,"y":0.0035},{"r":16,"x":0.017,"y":0.0039},{"r":16,"x":0.018,"y":0.0042},{"r":16,"x":0.0191,"y":0.0044},{"r":16,"x":0.0202,"y":0.0045},{"r":16,"x":0.0214,"y":0.0045},{"r":16,"x":0.0226,"y":0.0044},{"r":16,"x":0.0238,"y":0.0043},{"r":16,"x":0.025,"y":0.0042},{"r":16,"x":0.0262,"y":0.0041},{"r":16,"x":0.0274,"y":0.0041},{"r":16,"x":0.0286,"y":0.0042},{"r":16,"x":0.0298,"y":0.0047},{"r":16,"x":0.031,"y":0.0053},{"r":16,"x":0.0322,"y":0.006},{"r":16,"x":0.0334,"y":0.0066},{"r":16,"x":0.0346,"y":0.0071},{"r":16,"x":0.0358,"y":0.0075},{"r":16,"x":0.037,"y":0.0077},{"r":16,"x":0.0382,"y":0.0078},{"r":16,"x":0.0394,"y":0.0078},{"r":16,"x":0.0406,"y":0.0079},{"r":16,"x":0.0416,"y":0.0078},{"r":16,"x":0.0422,"y":0.0077},
{"r":17,"x":0.0158,"y":-0.0078},{"r":17,"x":0.0155,"y":-0.007},{"r":17,"x":0.0152,"y":-0.0061},{"r":17,"x":0.0149,"y":-0.0052},{"r":17,"x":0.0145,"y":-0.0043},{"r":17,"x":0.0141,"y":-0.0034},{"r":17,"x":0.0138,"y":-0.0025},{"r":17,"x":0.0135,"y":-0.0016},{"r":17,"x":0.0133,"y":-0.0007},{"r":17,"x":0.0133,"y":0.0002},{"r":17,"x":0.0135,"y":0.0011},
{"r":17,"x":0.0141,"y":0.0015},{"r":17,"x":0.0148,"y":0.0022},{"r":17,"x":0.0156,"y":0.0028},{"r":17,"x":0.0165,"y":0.0033},{"r":17,"x":0.0175,"y":0.0036},{"r":17,"x":0.0186,"y":0.0038},{"r":17,"x":0.0198,"y":0.0039},{"r":17,"x":0.021,"y":0.0039},{"r":17,"x":0.0222,"y":0.0038},{"r":17,"x":0.0234,"y":0.0036},{"r":17,"x":0.0246,"y":0.0034},{"r":17,"x":0.0258,"y":0.0032},{"r":17,"x":0.027,"y":0.0031},{"r":17,"x":0.0282,"y":0.0031},{"r":17,"x":0.0294,"y":0.0034},{"r":17,"x":0.0306,"y":0.0038},{"r":17,"x":0.0318,"y":0.0043},{"r":17,"x":0.033,"y":0.0049},{"r":17,"x":0.0342,"y":0.0055},{"r":17,"x":0.0354,"y":0.0061},{"r":17,"x":0.0366,"y":0.0066},{"r":17,"x":0.0378,"y":0.007},{"r":17,"x":0.039,"y":0.0073},{"r":17,"x":0.04,"y":0.0075},{"r":17,"x":0.041,"y":0.0076},{"r":17,"x":0.0418,"y":0.0076},
{"r":18,"x":0.0166,"y":-0.007},{"r":18,"x":0.0163,"y":-0.0062},{"r":18,"x":0.0159,"y":-0.0053},{"r":18,"x":0.0155,"y":-0.0045},{"r":18,"x":0.0151,"y":-0.0037},{"r":18,"x":0.0147,"y":-0.0029},{"r":18,"x":0.0143,"y":-0.0021},{"r":18,"x":0.014,"y":-0.0013},{"r":18,"x":0.0138,"y":-0.0005},{"r":18,"x":0.0137,"y":0.0003},{"r":18,"x":0.0139,"y":0.0011},
{"r":18,"x":0.0142,"y":0.0013},{"r":18,"x":0.015,"y":0.0019},{"r":18,"x":0.0159,"y":0.0025},{"r":18,"x":0.0169,"y":0.0029},{"r":18,"x":0.018,"y":0.0032},{"r":18,"x":0.0192,"y":0.0034},{"r":18,"x":0.0204,"y":0.0034},{"r":18,"x":0.0216,"y":0.0033},{"r":18,"x":0.0228,"y":0.0031},{"r":18,"x":0.024,"y":0.0029},{"r":18,"x":0.0252,"y":0.0027},{"r":18,"x":0.0264,"y":0.0026},{"r":18,"x":0.0276,"y":0.0025},{"r":18,"x":0.0288,"y":0.0026},{"r":18,"x":0.03,"y":0.0027},{"r":18,"x":0.0312,"y":0.0029},{"r":18,"x":0.0324,"y":0.0031},{"r":18,"x":0.0336,"y":0.0034},{"r":18,"x":0.0348,"y":0.0038},{"r":18,"x":0.036,"y":0.0042},{"r":18,"x":0.0372,"y":0.0047},{"r":18,"x":0.0384,"y":0.0052},{"r":18,"x":0.0395,"y":0.0057},{"r":18,"x":0.0405,"y":0.0062},{"r":18,"x":0.0412,"y":0.0066},{"r":18,"x":0.0418,"y":0.007},
{"r":19,"x":0.0172,"y":-0.006},{"r":19,"x":0.0169,"y":-0.0052},{"r":19,"x":0.0165,"y":-0.0044},{"r":19,"x":0.0161,"y":-0.0036},{"r":19,"x":0.0157,"y":-0.0028},{"r":19,"x":0.0152,"y":-0.002},{"r":19,"x":0.0148,"y":-0.0013},{"r":19,"x":0.0144,"y":-0.0006},{"r":19,"x":0.0142,"y":0.0001},{"r":19,"x":0.0142,"y":0.0008},
{"r":19,"x":0.0145,"y":0.0016},{"r":19,"x":0.0152,"y":0.0024},{"r":19,"x":0.016,"y":0.0031},{"r":19,"x":0.0169,"y":0.0037},{"r":19,"x":0.0179,"y":0.0041},{"r":19,"x":0.019,"y":0.0044},{"r":19,"x":0.0202,"y":0.0046},{"r":19,"x":0.0214,"y":0.0047},{"r":19,"x":0.0226,"y":0.0047},{"r":19,"x":0.0238,"y":0.0046},{"r":19,"x":0.025,"y":0.0045},{"r":19,"x":0.0262,"y":0.0044},{"r":19,"x":0.0274,"y":0.0043},{"r":19,"x":0.0286,"y":0.0044},{"r":19,"x":0.0298,"y":0.0046},{"r":19,"x":0.031,"y":0.0049},{"r":19,"x":0.0322,"y":0.0053},{"r":19,"x":0.0334,"y":0.0058},{"r":19,"x":0.0346,"y":0.0063},{"r":19,"x":0.0358,"y":0.0068},{"r":19,"x":0.037,"y":0.0072},{"r":19,"x":0.0382,"y":0.0074},{"r":19,"x":0.0394,"y":0.0073},{"r":19,"x":0.0405,"y":0.0071},{"r":19,"x":0.0414,"y":0.0072},
{"r":20,"x":0.016,"y":-0.0083},{"r":20,"x":0.0157,"y":-0.0075},{"r":20,"x":0.0154,"y":-0.0066},{"r":20,"x":0.0151,"y":-0.0057},{"r":20,"x":0.0147,"y":-0.0048},{"r":20,"x":0.0143,"y":-0.0039},{"r":20,"x":0.0139,"y":-0.003},{"r":20,"x":0.0136,"y":-0.0021},{"r":20,"x":0.0134,"y":-0.0012},{"r":20,"x":0.0133,"y":-0.0003},{"r":20,"x":0.0134,"y":0.0006},
{"r":20,"x":0.0141,"y":0.0016},{"r":20,"x":0.0149,"y":0.0024},{"r":20,"x":0.0157,"y":0.0032},{"r":20,"x":0.0165,"y":0.004},{"r":20,"x":0.0173,"y":0.0048},{"r":20,"x":0.0181,"y":0.0056},{"r":20,"x":0.0189,"y":0.0064},{"r":20,"x":0.0197,"y":0.0072},{"r":20,"x":0.0205,"y":0.008},{"r":20,"x":0.0213,"y":0.0088},{"r":20,"x":0.0222,"y":0.0097},{"r":20,"x":0.0231,"y":0.0106},{"r":20,"x":0.024,"y":0.0115},{"r":20,"x":0.025,"y":0.0125},{"r":20,"x":0.026,"y":0.0135},{"r":20,"x":0.0271,"y":0.0145},{"r":20,"x":0.0282,"y":0.0156},{"r":20,"x":0.0294,"y":0.0167},{"r":20,"x":0.0306,"y":0.0178},{"r":20,"x":0.0318,"y":0.019},
{"r":20,"x":0.0331,"y":0.0203},{"r":20,"x":0.0344,"y":0.0218},{"r":20,"x":0.0357,"y":0.0236},{"r":20,"x":0.037,"y":0.0256},{"r":20,"x":0.0383,"y":0.0278},{"r":20,"x":0.0397,"y":0.03},{"r":20,"x":0.0412,"y":0.0322},{"r":20,"x":0.0428,"y":0.0343},{"r":20,"x":0.0445,"y":0.0363},{"r":20,"x":0.0458,"y":0.0378},{"r":20,"x":0.0466,"y":0.0392},
{"r":21,"x":0.0169,"y":-0.0064},{"r":21,"x":0.0166,"y":-0.0056},{"r":21,"x":0.0162,"y":-0.0048},{"r":21,"x":0.0158,"y":-0.004},{"r":21,"x":0.0154,"y":-0.0032},{"r":21,"x":0.015,"y":-0.0024},{"r":21,"x":0.0146,"y":-0.0016},{"r":21,"x":0.0143,"y":-0.0008},{"r":21,"x":0.0141,"y":0},{"r":21,"x":0.0141,"y":0.0008},
{"r":21,"x":0.0146,"y":0.0016},{"r":21,"x":0.0154,"y":0.0023},{"r":21,"x":0.0164,"y":0.0031},{"r":21,"x":0.0174,"y":0.0039},{"r":21,"x":0.0184,"y":0.0047},{"r":21,"x":0.0194,"y":0.0055},{"r":21,"x":0.0204,"y":0.0062},{"r":21,"x":0.0214,"y":0.007},{"r":21,"x":0.0225,"y":0.0078},{"r":21,"x":0.0236,"y":0.0087},{"r":21,"x":0.0247,"y":0.0096},{"r":21,"x":0.0259,"y":0.0105},{"r":21,"x":0.0271,"y":0.0114},{"r":21,"x":0.0284,"y":0.0124},{"r":21,"x":0.0297,"y":0.0134},{"r":21,"x":0.031,"y":0.0144},{"r":21,"x":0.0324,"y":0.0154},
{"r":21,"x":0.0338,"y":0.0168},{"r":21,"x":0.0354,"y":0.0184},{"r":21,"x":0.0372,"y":0.0199},{"r":21,"x":0.0392,"y":0.0213},{"r":21,"x":0.0414,"y":0.0226},{"r":21,"x":0.0438,"y":0.0236},{"r":21,"x":0.0462,"y":0.0243},{"r":21,"x":0.0487,"y":0.0249},{"r":21,"x":0.0512,"y":0.0255},{"r":21,"x":0.0538,"y":0.0262},{"r":21,"x":0.0563,"y":0.027},{"r":21,"x":0.0588,"y":0.0278},{"r":21,"x":0.0612,"y":0.0286},{"r":21,"x":0.0636,"y":0.0262},{"r":21,"x":0.0664,"y":0.0268},{"r":21,"x":0.0692,"y":0.0276},{"r":21,"x":0.072,"y":0.0284},{"r":21,"x":0.0748,"y":0.0294},{"r":21,"x":0.0778,"y":0.0304},{"r":21,"x":0.0808,"y":0.0315},{"r":21,"x":0.0838,"y":0.0326},{"r":21,"x":0.0868,"y":0.0338},{"r":21,"x":0.0898,"y":0.0352},{"r":21,"x":0.0928,"y":0.0368},{"r":21,"x":0.0958,"y":0.0384},{"r":21,"x":0.0988,"y":0.0402},{"r":21,"x":0.1018,"y":0.0418},{"r":21,"x":0.1048,"y":0.0432},{"r":21,"x":0.1078,"y":0.0446},{"r":21,"x":0.1097,"y":0.0437},
{"r":22,"x":0.0154,"y":-0.0068},{"r":22,"x":0.0151,"y":-0.0059},{"r":22,"x":0.0148,"y":-0.005},{"r":22,"x":0.0145,"y":-0.0041},{"r":22,"x":0.0142,"y":-0.0032},{"r":22,"x":0.0139,"y":-0.0023},{"r":22,"x":0.0136,"y":-0.0014},{"r":22,"x":0.0134,"y":-0.0005},{"r":22,"x":0.0134,"y":0.0004},{"r":22,"x":0.0136,"y":0.0012},
{"r":22,"x":0.014,"y":0.0019},{"r":22,"x":0.0146,"y":0.0025},{"r":22,"x":0.0153,"y":0.0031},{"r":22,"x":0.0162,"y":0.0036},{"r":22,"x":0.0172,"y":0.004},{"r":22,"x":0.0183,"y":0.0043},{"r":22,"x":0.0194,"y":0.0045},{"r":22,"x":0.0206,"y":0.0046},{"r":22,"x":0.0218,"y":0.0047},{"r":22,"x":0.023,"y":0.0046},{"r":22,"x":0.0242,"y":0.0046},{"r":22,"x":0.0252,"y":0.0047},
{"r":22,"x":0.026,"y":0.0052},{"r":22,"x":0.0266,"y":0.0058},{"r":22,"x":0.0272,"y":0.0066},{"r":22,"x":0.0279,"y":0.0075},{"r":22,"x":0.0286,"y":0.0085},{"r":22,"x":0.0293,"y":0.0095},{"r":22,"x":0.03,"y":0.0105},{"r":22,"x":0.0307,"y":0.0115},{"r":22,"x":0.0315,"y":0.0125},{"r":22,"x":0.0323,"y":0.0136},{"r":22,"x":0.0331,"y":0.0147},{"r":22,"x":0.034,"y":0.0159},{"r":22,"x":0.035,"y":0.0172},{"r":22,"x":0.036,"y":0.0186},{"r":22,"x":0.0371,"y":0.0201},{"r":22,"x":0.0383,"y":0.0218},{"r":22,"x":0.0396,"y":0.0236},{"r":22,"x":0.041,"y":0.0255},{"r":22,"x":0.0425,"y":0.0274},{"r":22,"x":0.044,"y":0.0292},{"r":22,"x":0.0455,"y":0.031},{"r":22,"x":0.0468,"y":0.0326},{"r":22,"x":0.0478,"y":0.0338},
{"r":23,"x":0.0161,"y":-0.0075},{"r":23,"x":0.0158,"y":-0.0067},{"r":23,"x":0.0155,"y":-0.0058},{"r":23,"x":0.0152,"y":-0.0049},{"r":23,"x":0.0148,"y":-0.004},{"r":23,"x":0.0144,"y":-0.0031},{"r":23,"x":0.0141,"y":-0.0022},{"r":23,"x":0.0138,"y":-0.0013},{"r":23,"x":0.0137,"y":-0.0004},{"r":23,"x":0.0138,"y":0.0005},
{"r":23,"x":0.014,"y":0.0013},{"r":23,"x":0.0146,"y":0.0019},{"r":23,"x":0.0154,"y":0.0025},{"r":23,"x":0.0162,"y":0.0029},{"r":23,"x":0.0172,"y":0.0032},{"r":23,"x":0.0182,"y":0.0034},{"r":23,"x":0.0194,"y":0.0035},{"r":23,"x":0.0206,"y":0.0035},{"r":23,"x":0.0218,"y":0.0035},{"r":23,"x":0.023,"y":0.0034},{"r":23,"x":0.0242,"y":0.0033},{"r":23,"x":0.0254,"y":0.0033},
{"r":23,"x":0.0264,"y":0.0036},{"r":23,"x":0.0273,"y":0.0042},{"r":23,"x":0.0281,"y":0.005},{"r":23,"x":0.0289,"y":0.0059},{"r":23,"x":0.0297,"y":0.0069},{"r":23,"x":0.0305,"y":0.0079},{"r":23,"x":0.0313,"y":0.0089},{"r":23,"x":0.0321,"y":0.0099},{"r":23,"x":0.0329,"y":0.0109},{"r":23,"x":0.0338,"y":0.012},{"r":23,"x":0.0348,"y":0.0131},{"r":23,"x":0.0358,"y":0.0142},{"r":23,"x":0.0369,"y":0.0153},{"r":23,"x":0.0382,"y":0.0163},{"r":23,"x":0.0397,"y":0.0172},{"r":23,"x":0.0414,"y":0.0179},{"r":23,"x":0.0433,"y":0.0185},{"r":23,"x":0.0454,"y":0.019},{"r":23,"x":0.0476,"y":0.0195},{"r":23,"x":0.05,"y":0.0199},{"r":23,"x":0.0524,"y":0.0205},{"r":23,"x":0.0548,"y":0.021},{"r":23,"x":0.0572,"y":0.0216},{"r":23,"x":0.0598,"y":0.0222},{"r":23,"x":0.0624,"y":0.0229},{"r":23,"x":0.0652,"y":0.0236},{"r":23,"x":0.068,"y":0.0244},{"r":23,"x":0.0708,"y":0.0252},{"r":23,"x":0.0736,"y":0.0261},{"r":23,"x":0.0766,"y":0.0271},{"r":23,"x":0.0796,"y":0.0282},{"r":23,"x":0.0826,"y":0.0294},{"r":23,"x":0.0856,"y":0.0307},{"r":23,"x":0.0886,"y":0.032},{"r":23,"x":0.0916,"y":0.0334},{"r":23,"x":0.0946,"y":0.0348},{"r":23,"x":0.0976,"y":0.036},{"r":23,"x":0.1006,"y":0.0372},{"r":23,"x":0.104,"y":0.0384},
{"r":24,"x":0.0167,"y":-0.0068},{"r":24,"x":0.0164,"y":-0.006},{"r":24,"x":0.016,"y":-0.0051},{"r":24,"x":0.0156,"y":-0.0043},{"r":24,"x":0.0152,"y":-0.0035},{"r":24,"x":0.0148,"y":-0.0027},{"r":24,"x":0.0144,"y":-0.0019},{"r":24,"x":0.0141,"y":-0.0011},{"r":24,"x":0.0139,"y":-0.0003},{"r":24,"x":0.0139,"y":0.0005},
{"r":24,"x":0.0143,"y":0.0014},{"r":24,"x":0.0149,"y":0.0021},{"r":24,"x":0.0157,"y":0.0027},{"r":24,"x":0.0166,"y":0.0032},{"r":24,"x":0.0176,"y":0.0036},{"r":24,"x":0.0187,"y":0.0039},{"r":24,"x":0.0198,"y":0.0041},{"r":24,"x":0.021,"y":0.0042},{"r":24,"x":0.0222,"y":0.0041},{"r":24,"x":0.0234,"y":0.004},{"r":24,"x":0.0246,"y":0.0038},{"r":24,"x":0.0258,"y":0.0037},{"r":24,"x":0.027,"y":0.0036},{"r":24,"x":0.0282,"y":0.0036},{"r":24,"x":0.0294,"y":0.0039},{"r":24,"x":0.0306,"y":0.0043},{"r":24,"x":0.0318,"y":0.0049},{"r":24,"x":0.033,"y":0.0055},{"r":24,"x":0.0342,"y":0.0061},{"r":24,"x":0.0354,"y":0.0066},{"r":24,"x":0.0366,"y":0.007},{"r":24,"x":0.0378,"y":0.0073},{"r":24,"x":0.039,"y":0.0075},{"r":24,"x":0.0401,"y":0.0077},{"r":24,"x":0.0411,"y":0.0078},{"r":24,"x":0.042,"y":0.0076},
{"r":25,"x":0.0157,"y":-0.0071},{"r":25,"x":0.0154,"y":-0.0063},{"r":25,"x":0.0151,"y":-0.0054},{"r":25,"x":0.0148,"y":-0.0045},{"r":25,"x":0.0144,"y":-0.0036},{"r":25,"x":0.014,"y":-0.0027},{"r":25,"x":0.0137,"y":-0.0018},{"r":25,"x":0.0135,"y":-0.0009},{"r":25,"x":0.0134,"y":0},{"r":25,"x":0.0136,"y":0.0008},
{"r":25,"x":0.0141,"y":0.0012},{"r":25,"x":0.0149,"y":0.0018},{"r":25,"x":0.0158,"y":0.0023},{"r":25,"x":0.0168,"y":0.0027},{"r":25,"x":0.0179,"y":0.003},{"r":25,"x":0.0191,"y":0.0031},{"r":25,"x":0.0203,"y":0.0031},{"r":25,"x":0.0215,"y":0.003},{"r":25,"x":0.0227,"y":0.0029},{"r":25,"x":0.0239,"y":0.0027},{"r":25,"x":0.0251,"y":0.0026},{"r":25,"x":0.0263,"y":0.0025},{"r":25,"x":0.0275,"y":0.0028},{"r":25,"x":0.0287,"y":0.0029},{"r":25,"x":0.0299,"y":0.003},{"r":25,"x":0.0311,"y":0.0033},{"r":25,"x":0.0323,"y":0.0036},{"r":25,"x":0.0335,"y":0.004},{"r":25,"x":0.0347,"y":0.0045},{"r":25,"x":0.0359,"y":0.005},{"r":25,"x":0.0371,"y":0.0055},{"r":25,"x":0.0383,"y":0.006},{"r":25,"x":0.0394,"y":0.0064},{"r":25,"x":0.0404,"y":0.0068},{"r":25,"x":0.0413,"y":0.0071}
]},
"encoding":{
"x":{"field":"x","type":"quantitative","scale":{"domain":[0.005,0.14],"nice":false,"zero":false},
"axis":{"title":"Zreal/Ohm","values":[0.005,0.01,0.015,0.02,0.025,0.03,0.035,0.04,0.045,0.05,0.055,0.06,0.065,0.07,0.075,0.08,0.085,0.09,0.095,0.1,0.105,0.11,0.115,0.12,0.125,0.13,0.135,0.14],"format":"~f","grid":true,"gridColor":"#cfcfcf","gridDash":[2,2],"gridWidth":1,"domainColor":"#222","domainWidth":2,"tickColor":"#777","tickSize":3,"labelFontSize":7,"labelColor":"#444","labelPadding":4,"titleFontSize":7,"titleColor":"#444","titleFontWeight":"normal","titlePadding":1}},
"y":{"field":"y","type":"quantitative","scale":{"domain":[-0.012,0.07],"nice":false,"zero":false},
"axis":{"title":"-Zimag/Ohm","values":[-0.01,-0.008,-0.006,-0.004,-0.002,0,0.002,0.004,0.006,0.008,0.01,0.012,0.014,0.016,0.018,0.02,0.022,0.024,0.026,0.028,0.03,0.032,0.034,0.036,0.038,0.04,0.042,0.044,0.046,0.048,0.05,0.052,0.054,0.056,0.058,0.06,0.062,0.064,0.066,0.068,0.07],"format":"~f","labelExpr":"replace(datum.label, '\u2212', '-')","grid":true,"gridColor":"#cfcfcf","gridDash":[2,2],"gridWidth":1,"domainColor":"#222","domainWidth":2,"tickColor":"#777","tickSize":3,"labelFontSize":7,"labelColor":"#444","labelPadding":2,"titleFontSize":7,"titleColor":"#444","titleFontWeight":"normal","titlePadding":8}}
},
"layer":[
{"data":{"name":"pts"},"transform":[{"window":[{"op":"row_number","as":"i"}]}],
 "mark":{"type":"line","color":"#6464e6","strokeWidth":1,"opacity":0.8},
 "encoding":{"detail":{"field":"r","type":"nominal"},"order":{"field":"i","type":"quantitative"}}},
{"data":{"name":"pts"},"transform":[{"lookup":"r","from":{"data":{"name":"runs"},"key":"r","fields":["name"]}}],
 "mark":{"type":"point","shape":"square","filled":true,"size":36,"opacity":1},
 "encoding":{"color":{"field":"name","type":"nominal",
  "scale":{"domain":["Zimag of 150409-222313_15DegC.003","Zimag of 150409-223244_15DegC.002","Zimag of 150409-223276_15DegC.008","Zimag of 150409-223284_15DegC.006","Zimag of 150409-223293_15DegC.004","Zimag of 150409-224152_15DegC.001","Zimag of 150409-224232_15DegC.005","Zimag of 150409-224234_15DegC.007"],"range":["#11118f","#11118f","#11118f","#11118f","#11118f","#11118f","#11118f","#11118f"]},
  "legend":{"orient":"none","legendX":35,"legendY":22,"title":null,"labelFontSize":7.4,"labelFont":"Liberation Sans","labelColor":"#333","symbolSize":20,"symbolType":"square","rowPadding":1,"padding":4,"strokeColor":"#999","fillColor":"#ffffff","labelLimit":300,"symbolOffset":2,"labelOffset":3}}}},
{"data":{"name":"arrows"},"mark":{"type":"rule","color":"#4a7ebb","strokeWidth":6},
 "encoding":{"x2":{"field":"x2"},"y2":{"field":"y2"}}},
{"data":{"name":"heads"},"transform":[{"filter":"datum.id==1"}],
 "mark":{"type":"point","shape":"M -0.5 0.87 L 0 0 L 0.5 0.87","filled":false,"stroke":"#4a7ebb","strokeWidth":6,"size":2700,"angle":171,"opacity":1,"strokeCap":"butt","strokeJoin":"miter"},"encoding":{}},
{"data":{"name":"heads"},"transform":[{"filter":"datum.id==2"}],
 "mark":{"type":"point","shape":"M -0.5 0.87 L 0 0 L 0.5 0.87","filled":false,"stroke":"#4a7ebb","strokeWidth":6,"size":2700,"angle":270,"opacity":1,"strokeCap":"butt","strokeJoin":"miter"},"encoding":{}},
{"data":{"name":"notes"},"mark":{"type":"text","font":"DejaVu Sans","fontSize":41,"color":"#111111","align":"center","baseline":"middle"},
 "encoding":{"text":{"field":"label"}}}
]
}
